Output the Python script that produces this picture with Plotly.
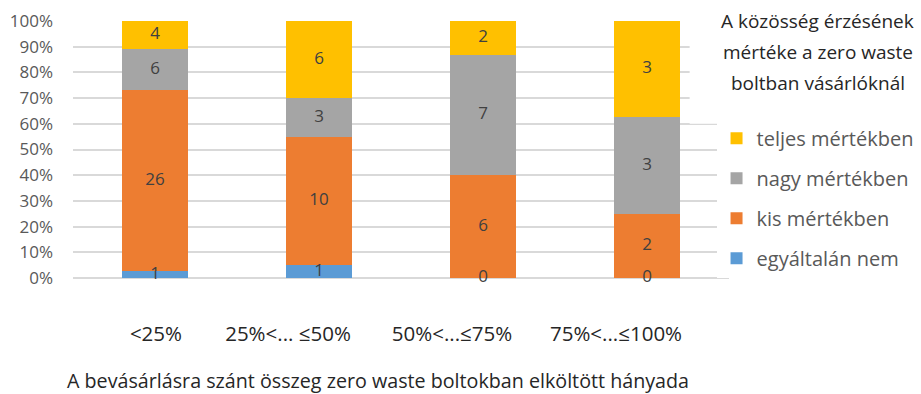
import plotly.graph_objects as go

# Survey data: counts of respondents per spending share and feeling level
categories = ["<25%", "25%<... ≤50%", "50%<...≤75%", "75%<...≤100%"]
series_names = ["egyáltalán nem", "kis mértékben", "nagy mértékben", "teljes mértékben"]
egyaltalan_nem = [1, 1, 0, 0]
kis_mertekben = [26, 10, 6, 2]
nagy_mertekben = [6, 3, 7, 3]
teljes_mertekben = [4, 6, 2, 3]
y_tick_values = list(range(0, 101, 10))
y_tick_labels = [f"{v}%" for v in y_tick_values]
legend_title_lines = ["A közösség érzésének", "mértéke a zero waste", "boltban vásárlóknál"]
x_axis_title = "A bevásárlásra szánt összeg zero waste boltokban elköltött hányada"

series_values = [egyaltalan_nem, kis_mertekben, nagy_mertekben, teljes_mertekben]
colors = ["#5B9BD5", "#ED7D31", "#A5A5A5", "#FFC000"]
FONT = "Open Sans"

fig = go.Figure()
for rank, (name, vals, col) in enumerate(zip(series_names, series_values, colors)):
    fig.add_trace(go.Bar(
        x=categories, y=vals, name=name, legendgroup=name,
        legendrank=len(series_names) - rank,
        marker=dict(color=col, line=dict(width=0)),
        textposition="none", hoverinfo="x+y+name",
    ))

# value labels at the middle of each (percent-normalised) segment, zeros included
totals = [sum(col) for col in zip(*series_values)]
lab_x, lab_y, lab_t = [], [], []
for ci, cat in enumerate(categories):
    base = 0.0
    for vals in series_values:
        share = 100.0 * vals[ci] / totals[ci]
        lab_x.append(cat)
        lab_y.append(base + share / 2)
        lab_t.append(str(vals[ci]))
        base += share
fig.add_trace(go.Scatter(
    x=lab_x, y=lab_y, text=lab_t, mode="text", showlegend=False,
    textposition="middle center", hoverinfo="skip", cliponaxis=False,
    textfont=dict(family=FONT, size=17, color="#404040"),
))

# labels are shifted left; the first one is padded so it stays under its bar
tick_text = ["\u00a0" * 12 + categories[0]] + categories[1:]

fig.update_layout(
    width=921, height=394,
    barmode="stack", barnorm="percent", bargap=0.6,
    plot_bgcolor="white", paper_bgcolor="white",
    margin=dict(l=73, r=192, t=21, b=116, autoexpand=False),
    font=dict(family=FONT, color="#595959"),
    showlegend=True,
    legend=dict(
        traceorder="grouped", tracegroupgap=11,
        x=0.981, xanchor="left", y=0.62, yanchor="top",
        bgcolor="white",
        font=dict(family=FONT, size=20, color="#595959"),
        itemwidth=30,
    ),
    xaxis=dict(
        tickmode="array", tickvals=categories, ticktext=tick_text,
        tickangle=0, automargin=False,
        tickfont=dict(family=FONT, size=20.5, color="#262626"),
        ticklabelstandoff=41, ticklabelshift=-31,
        showline=False, showgrid=False,
    ),
    yaxis=dict(
        range=[0, 100], tickvals=y_tick_values, ticktext=y_tick_labels,
        automargin=False,
        tickfont=dict(family=FONT, size=17, color="#595959"),
        showgrid=True, gridcolor="#D9D9D9", gridwidth=1.5,
        zeroline=True, zerolinecolor="#D9D9D9", zerolinewidth=1.5,
        ticklabelstandoff=19,
    ),
)

# white panel behind the legend title
fig.add_shape(type="rect", xref="paper", yref="paper",
              x0=0.94, x1=1.3, y0=0.6, y1=1.1,
              fillcolor="white", line=dict(width=0), layer="above")

for i, line in enumerate(legend_title_lines):
    fig.add_annotation(
        text=line, xref="paper", yref="paper",
        x=1.135, y=1.0 - i * 0.121, xanchor="center", yanchor="middle",
        showarrow=False, font=dict(family=FONT, size=19, color="#262626"),
    )

fig.add_annotation(
    text=x_axis_title, xref="paper", yref="paper",
    x=0.465, y=-0.4, xanchor="center", yanchor="middle",
    showarrow=False, font=dict(family=FONT, size=19.7, color="#262626"),
)

fig.write_html("out.html")
